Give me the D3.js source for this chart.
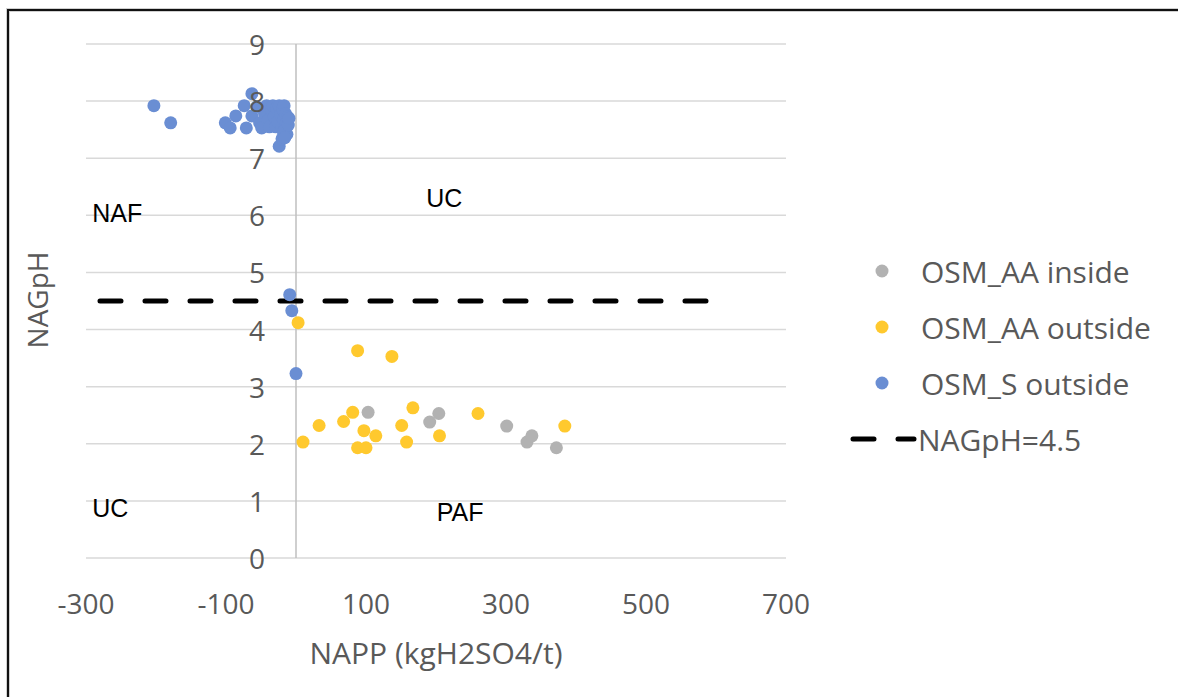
<!DOCTYPE html>
<html><head><meta charset="utf-8">
<script src="https://cdn.jsdelivr.net/npm/d3@7"></script>
<style>
html,body{margin:0;padding:0;background:#fff;}
svg{display:block;}
</style></head>
<body>
<svg id="chart" width="1178" height="697"></svg>
<script>
// ---- data ----
const seriesNames = ["OSM_AA inside", "OSM_AA outside", "OSM_S outside"];
const seriesColors = ["#b2b2b2", "#ffc92e", "#6a8ed3"];

const aaInsideX = [103, 191, 204, 301, 330, 337, 372];
const aaInsideY = [2.55, 2.38, 2.53, 2.31, 2.03, 2.14, 1.93];

const aaOutsideX = [3, 88, 137, 10, 33, 68, 81, 97, 88, 100, 114, 151, 167, 158, 205, 260, 384];
const aaOutsideY = [4.12, 3.63, 3.53, 2.03, 2.32, 2.39, 2.55, 2.23, 1.93, 1.93, 2.14, 2.32, 2.63, 2.03, 2.14, 2.53, 2.31];

const sOutsideX = [-203, -179, -101, -94, -86, -74, -71, -63, -63, -56, -52, -49, -45, -42, -40, -38, -35, -33, -31, -29, -28, -26, -24, -22, -20, -19, -18, -17, -16, -15, -14, -13, -12, -24, -20, -18, -16, -11, -10, -9, -6, 0];
const sOutsideY = [7.92, 7.62, 7.62, 7.53, 7.74, 7.92, 7.53, 8.13, 7.74, 7.9, 7.62, 7.53, 7.78, 7.92, 7.66, 7.55, 7.84, 7.92, 7.72, 7.55, 7.88, 7.64, 7.92, 7.76, 7.55, 7.86, 7.68, 7.92, 7.5, 7.78, 7.62, 7.42, 7.72, 7.21, 7.34, 7.46, 7.36, 7.58, 7.7, 4.61, 4.33, 3.23];

const thresholdValue = 4.5;
const thresholdX = [-280, 586];
const thresholdName = "NAGpH=4.5";

const xTicks = [-300, -100, 100, 300, 500, 700];
const yTicks = [0, 1, 2, 3, 4, 5, 6, 7, 8, 9];

const zoneLabels = ["NAF", "UC", "UC", "PAF"];
const zoneX = [-291, 186, -291, 201];
const zoneY = [6.04, 6.3, 0.88, 0.81];

const xTitle = "NAPP (kgH2SO4/t)";
const yTitle = "NAGpH";

// ---- drawing ----
const svg = d3.select("#chart");
const x = d3.scaleLinear().domain([-300, 700]).range([86, 786]);
const y = d3.scaleLinear().domain([0, 9]).range([558, 44]);
const font = "'Open Sans', sans-serif";
const grey = "#595959";

// frame
svg.append("rect").attr("x", 8).attr("y", 10).attr("width", 1200).attr("height", 720)
  .attr("fill", "none").attr("stroke", "#d0d0d0").attr("stroke-width", 4);
svg.append("rect").attr("x", 8).attr("y", 10).attr("width", 1200).attr("height", 720)
  .attr("fill", "none").attr("stroke", "#111").attr("stroke-width", 2);

// gridlines
svg.append("g").selectAll("line").data(yTicks).join("line")
  .attr("x1", x(-300)).attr("x2", x(700))
  .attr("y1", d => y(d)).attr("y2", d => y(d))
  .attr("stroke", "#d9d9d9").attr("stroke-width", 1.5);

// y axis line at x=0
svg.append("line").attr("x1", x(0)).attr("x2", x(0)).attr("y1", y(9)).attr("y2", y(0))
  .attr("stroke", "#bfbfbf").attr("stroke-width", 1.5);

// x tick labels
svg.append("g").selectAll("text").data(xTicks).join("text")
  .attr("x", d => x(d)).attr("y", 603).attr("text-anchor", "middle").attr("dominant-baseline", "central")
  .attr("font-family", font).attr("font-size", 28).attr("fill", grey).text(d => d);

// threshold line
svg.append("line").attr("x1", x(thresholdX[0])).attr("x2", x(thresholdX[1]))
  .attr("y1", y(thresholdValue)).attr("y2", y(thresholdValue))
  .attr("stroke", "#000").attr("stroke-width", 5).attr("stroke-linecap", "round")
  .attr("stroke-dasharray", "21,24");

// points
const series = [
  {xs: aaInsideX, ys: aaInsideY},
  {xs: aaOutsideX, ys: aaOutsideY},
  {xs: sOutsideX, ys: sOutsideY}
];
series.forEach((s, i) => {
  const pts = s.xs.map((v, k) => [v, s.ys[k]]);
  svg.append("g").selectAll("circle").data(pts).join("circle")
    .attr("cx", d => x(d[0])).attr("cy", d => y(d[1])).attr("r", 6.5)
    .attr("fill", seriesColors[i]);
});

// y tick labels (on top)
svg.append("g").selectAll("text").data(yTicks).join("text")
  .attr("x", x(0) - 31).attr("y", d => y(d)).attr("text-anchor", "end").attr("dominant-baseline", "central")
  .attr("font-family", font).attr("font-size", 28).attr("fill", grey).text(d => d);

// zone labels
svg.append("g").selectAll("text").data(zoneLabels).join("text")
  .attr("x", (d, i) => x(zoneX[i])).attr("y", (d, i) => y(zoneY[i]))
  .attr("dominant-baseline", "central")
  .attr("font-family", "'Liberation Sans', Arial, sans-serif").attr("font-size", 25).attr("fill", "#000")
  .text(d => d);

// axis titles
svg.append("text").attr("x", 436).attr("y", 652).attr("text-anchor", "middle").attr("dominant-baseline", "central")
  .attr("font-family", font).attr("font-size", 30).attr("fill", grey).text(xTitle);
svg.append("text").attr("transform", "translate(37,300) rotate(-90)").attr("text-anchor", "middle")
  .attr("dominant-baseline", "central")
  .attr("font-family", font).attr("font-size", 28).attr("fill", grey).text(yTitle);

// legend
const legendY = [271, 327, 383];
const lg = svg.append("g");
seriesNames.forEach((n, i) => {
  lg.append("circle").attr("cx", 882).attr("cy", legendY[i]).attr("r", 6.5).attr("fill", seriesColors[i]);
  lg.append("text").attr("x", 921).attr("y", legendY[i]).attr("dominant-baseline", "central")
    .attr("font-family", font).attr("font-size", 30).attr("fill", grey).text(n);
});
lg.append("line").attr("x1", 853).attr("x2", 914).attr("y1", 439).attr("y2", 439)
  .attr("stroke", "#000").attr("stroke-width", 5).attr("stroke-linecap", "round")
  .attr("stroke-dasharray", "21,24");
lg.append("text").attr("x", 918).attr("y", 439).attr("dominant-baseline", "central")
  .attr("font-family", font).attr("font-size", 30).attr("fill", grey).text(thresholdName);
</script>
</body></html>
